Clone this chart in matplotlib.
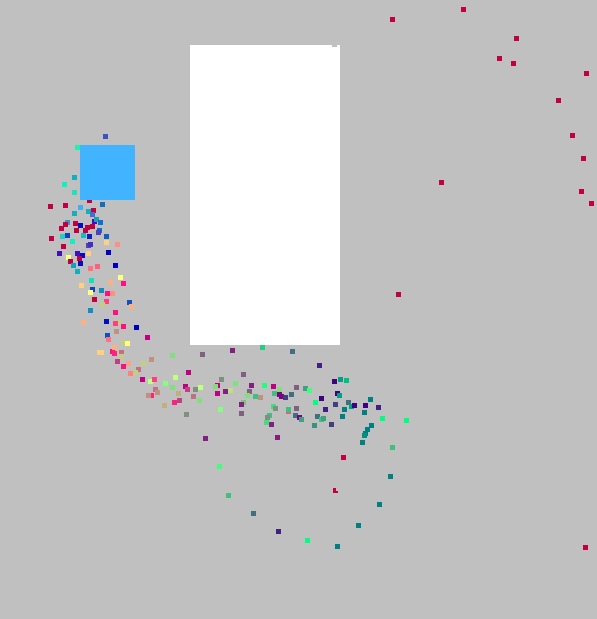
import matplotlib
matplotlib.use("Agg")
import matplotlib.pyplot as plt
from matplotlib.patches import Rectangle

# ==========================================
# data (pixel coords, y grows downward)
# ==========================================
# left arm of the curve
arm_x = [105, 77, 74, 64, 74, 89, 50, 65, 80, 102, 74, 88, 93, 92, 67, 75, 80, 94, 96, 100,
         61, 65, 76, 85, 87, 92, 99, 98, 51, 62, 67, 72, 83, 89, 106, 63, 88, 90, 106, 117,
         59, 77, 82, 68, 88, 108, 70, 79, 80, 73, 77, 90, 97, 115, 91, 120, 110, 123, 81, 92,
         101, 90, 107, 112, 94, 106, 102, 129, 131, 90, 115, 83, 106, 118, 115, 123, 136, 116, 107, 108,
         147, 123, 127, 99, 101, 112, 114, 121, 114, 121, 117, 128, 123, 143, 151, 172, 138, 130, 135]
arm_y = [136, 147, 177, 184, 192, 200, 206, 205, 207, 204, 213, 211, 210, 214, 222, 223, 225, 221, 219, 222,
         228, 224, 230, 230, 227, 226, 230, 232, 238, 236, 235, 241, 235, 236, 236, 246, 245, 244, 242, 244,
         253, 253, 255, 257, 253, 252, 261, 258, 263, 265, 271, 268, 266, 265, 280, 277, 282, 283, 285, 289,
         290, 292, 293, 293, 299, 301, 304, 302, 306, 310, 312, 322, 321, 322, 323, 326, 327, 331, 335, 339,
         337, 342, 343, 352, 352, 351, 353, 352, 347, 356, 361, 363, 366, 363, 359, 355, 369, 373, 372]
arm_c = ["#4050C0", "#20F0B0", "#10B0C0", "#10F0C0", "#20E0C0", "#C00040", "#C00040", "#C00040", "#40B0F0", "#1070C0",
         "#10B0C0", "#10B0C0", "#C00040", "#4070D0", "#4090C0", "#C00040", "#0010C0", "#4010C0", "#20A0B0", "#1070D0",
         "#C00040", "#C00040", "#C00040", "#C00040", "#C00040", "#C00040", "#1070C0", "#5040C0", "#C00040", "#20D0C0",
         "#1040C0", "#10F0C0", "#10C0C0", "#1020C0", "#1060C0", "#C00040", "#5040C0", "#4030C0", "#FFD080", "#FF9080",
         "#4010B0", "#4010C0", "#0010C0", "#FFFF80", "#FFD080", "#0000C0", "#C00040", "#C00040", "#0010C0", "#10A0C0",
         "#10B0C0", "#FF7080", "#FF6080", "#0000C0", "#10E0C0", "#FFFF80", "#FFB080", "#FF1080", "#FFD080", "#1040C0",
         "#1090C0", "#FFFF80", "#FF1080", "#FF9080", "#C00040", "#FF4080", "#C0D080", "#1050C0", "#FFB080", "#1090C0",
         "#FF1080", "#FFB080", "#0010C0", "#C0D080", "#FF4080", "#FF1080", "#0000C0", "#C09080", "#1050C0", "#FF7080",
         "#C00080", "#C0D080", "#FFFF80", "#FFD080", "#FFD080", "#FF1080", "#FF2080", "#C07080", "#FFB080", "#C0D080",
         "#C04080", "#FFA080", "#FF1080", "#C0D080", "#C09080", "#80E080", "#C07080", "#FF8080", "#C0D080"]

# lower band and arc
band_x = [202, 232, 262, 292, 142, 150, 154, 188, 175, 165, 172, 155, 157, 151, 148, 178, 185, 187, 195, 200,
          193, 199, 179, 174, 164, 186, 217, 221, 215, 217, 225, 230, 235, 243, 251, 249, 247, 255, 260, 264,
          273, 279, 274, 279, 281, 285, 291, 296, 305, 309, 243, 241, 220, 241, 273, 275, 288, 288, 296, 269,
          267, 266, 271, 295, 299, 301, 317, 321, 323, 314, 331, 319, 334, 340, 346, 337, 339, 321, 315, 325,
          335, 348, 351, 354, 365, 370, 344, 364, 378, 342, 382, 406, 371, 367, 365, 364, 362, 392, 205, 277,
          343, 219, 390, 335, 228, 379, 253, 358, 278, 307, 337]
band_y = [354, 350, 347, 351, 379, 381, 379, 372, 377, 383, 387, 389, 392, 395, 395, 393, 386, 389, 389, 387,
          396, 400, 400, 402, 405, 414, 385, 379, 386, 393, 391, 390, 383, 374, 385, 391, 395, 396, 397, 385,
          386, 389, 393, 394, 396, 397, 394, 387, 388, 390, 402, 404, 409, 413, 406, 408, 411, 409, 408, 415,
          417, 422, 424, 415, 417, 419, 416, 419, 418, 425, 424, 365, 381, 379, 380, 393, 395, 398, 402, 409,
          404, 402, 406, 405, 405, 399, 409, 412, 407, 416, 418, 420, 425, 429, 433, 435, 442, 447, 438, 437,
          457, 466, 476, 490.5, 495, 504, 513, 525, 531, 540, 546]
band_c = ["#806080", "#802080", "#20D080", "#407080", "#C00080", "#C0FF80", "#FF4080", "#C00080", "#C0FF80", "#80FF80",
          "#80E080", "#C07080", "#C09080", "#FF2080", "#C09080", "#C0B080", "#C00080", "#C04080", "#809080", "#C0FF80",
          "#C07080", "#80E080", "#C04080", "#FF2080", "#C0B080", "#809080", "#C00080", "#809080", "#80E080", "#C00080",
          "#802080", "#C0E080", "#80E080", "#806080", "#802080", "#806080", "#80E080", "#40C080", "#C09080", "#20FF80",
          "#C00080", "#80E080", "#40C080", "#800080", "#800080", "#404080", "#407080", "#806080", "#40A080", "#40FF80",
          "#80C080", "#802080", "#80FF80", "#806080", "#40E080", "#809080", "#C07080", "#40C080", "#806080", "#40C080",
          "#809080", "#40E080", "#802080", "#407080", "#800080", "#40A080", "#407080", "#40C080", "#40A080", "#409080",
          "#404080", "#402080", "#400080", "#00A080", "#00C080", "#400080", "#00A080", "#400080", "#00FF80", "#402080",
          "#404080", "#407080", "#00A080", "#400080", "#400080", "#008080", "#008080", "#008080", "#402080", "#008080",
          "#00FF80", "#00FF80", "#008080", "#008080", "#008080", "#009080", "#008080", "#40C080", "#802080", "#802080",
          "#C00040", "#40FF80", "#008080", "#C00040", "#40C080", "#008080", "#407080", "#008080", "#402080", "#00FF80",
          "#008080"]

# scattered crimson points on the right
right_x = [463, 392, 516, 499, 513, 586, 558, 572, 583, 441, 581, 591, 398, 585]
right_y = [9, 19, 38, 58, 63, 73, 100, 135, 158, 182, 191, 203, 294, 547]

# grey points that sit on top of other marks (same colour as background)
grey_x = [333.5, 337.5]
grey_y = [43.5, 487.5]

# overlay boxes: (left, top, width, height)
white_box = (190, 45, 150, 300)
blue_box = (80, 145, 55, 55)

W, H = 597, 619
BG = "#C0C0C0"
fig = plt.figure(figsize=(W / 100, H / 100), dpi=100)
fig.patch.set_facecolor(BG)
ax = fig.add_axes([0, 0, 1, 1])
ax.set_facecolor(BG)
ax.set_xlim(0, W)
ax.set_ylim(H, 0)
ax.axis("off")

msize = (5 * 72 / 100) ** 2
ax.scatter(arm_x, arm_y, c=arm_c, marker="s", s=msize, linewidths=0, zorder=2)
ax.scatter(band_x, band_y, c=band_c, marker="s", s=msize, linewidths=0, zorder=2)
ax.scatter(right_x, right_y, c="#C00040", marker="s", s=msize, linewidths=0, zorder=2)

ax.add_patch(Rectangle((white_box[0], white_box[1]), white_box[2], white_box[3],
                       facecolor="white", edgecolor="none", zorder=3))
ax.add_patch(Rectangle((blue_box[0], blue_box[1]), blue_box[2], blue_box[3],
                       facecolor="#42B4FF", edgecolor="none", zorder=3))

ax.scatter(grey_x, grey_y, c=BG, marker="s", s=msize, linewidths=0, zorder=4)

fig.savefig("out.png", dpi=100, facecolor=fig.get_facecolor())
